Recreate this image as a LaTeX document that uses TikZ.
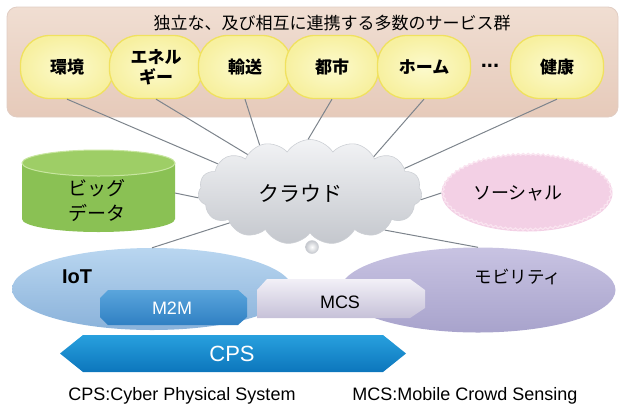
\documentclass[tikz,border=0pt]{standalone}
\usepackage{fontspec}
\setmainfont{Liberation Sans}
\newfontfamily\jp{Noto Sans CJK JP}
\usetikzlibrary{shapes.symbols,shapes.geometric,decorations.pathmorphing}
\definecolor{panelTop}{RGB}{240,222,210}
\definecolor{panelBot}{RGB}{230,202,186}
\definecolor{panelEdge}{RGB}{225,205,195}
\definecolor{bubIn}{RGB}{252,250,205}
\definecolor{bubOut}{RGB}{247,240,160}
\definecolor{bubEdge}{RGB}{240,225,95}
\definecolor{connc}{RGB}{125,132,140}
\definecolor{cloudTop}{RGB}{242,243,245}
\definecolor{cloudBot}{RGB}{196,199,205}
\definecolor{cloudEdge}{RGB}{205,208,213}
\definecolor{greenSide}{RGB}{138,193,84}
\definecolor{greenTop}{RGB}{158,206,102}
\definecolor{greenRim}{RGB}{200,230,160}
\definecolor{pinkFill}{RGB}{243,208,229}
\definecolor{pinkEdge}{RGB}{250,228,240}
\definecolor{iotTop}{RGB}{185,214,240}
\definecolor{iotBot}{RGB}{138,178,218}
\definecolor{mobTop}{RGB}{200,195,226}
\definecolor{mobBot}{RGB}{168,163,204}
\definecolor{m2mTop}{RGB}{90,165,220}
\definecolor{m2mBot}{RGB}{48,128,195}
\definecolor{mcsTop}{RGB}{242,240,247}
\definecolor{mcsBot}{RGB}{198,193,216}
\definecolor{cpsTop}{RGB}{40,160,222}
\definecolor{cpsBot}{RGB}{12,118,188}
\tikzset{
  bubble/.style={rectangle, rounded corners=29pt, minimum width=93pt, minimum height=63pt,
    inner color=bubIn, outer color=bubOut, draw=bubEdge, line width=1.3pt, align=center,
    inner sep=0pt, font=\jp\bfseries\fontsize{17}{20}\selectfont},
  conn/.style={draw=connc, line width=1pt},
  jptext/.style={font=\jp\fontsize{#1}{#1}\selectfont, inner sep=0pt},
  lattext/.style={font=\fontsize{#1}{#1}\selectfont, inner sep=0pt},
}
\begin{document}
\begin{tikzpicture}[x=1pt,y=-1pt]
\useasboundingbox (0,0) rectangle (620,405);
% panel
\node[rectangle, rounded corners=10pt, minimum width=611pt, minimum height=110pt,
  top color=panelTop, bottom color=panelBot, draw=panelEdge, line width=0.8pt] (panel) at (312.5,62) {};
\node[jptext=17] (title) at (332,23) {独立な、及び相互に連携する多数のサービス群};
% service bubbles
\node[bubble] (b1) at (67,67) {環境};
\node[bubble] (b2) at (156,67) {エネル\\ギー};
\node[bubble] (b3) at (245,67) {輸送};
\node[bubble] (b4) at (332,67) {都市};
\node[bubble] (b5) at (424,67) {ホーム};
\node[lattext=22, font=\bfseries\fontsize{22}{22}\selectfont] (dots) at (490,66) {...};
\node[bubble] (b6) at (557,67) {健康};
% cloud
\node[cloud, cloud puffs=15, cloud puff arc=115, aspect=2.2, minimum width=224pt, minimum height=105pt,
  inner sep=0pt, top color=cloudTop, bottom color=cloudBot, draw=cloudEdge, line width=0.6pt] (cloud) at (310,192) {};
\node[jptext=21] (cloudtxt) at (300,193) {クラウド};
\node[circle, minimum size=13pt, inner sep=0pt, inner color=white, outer color=cloudBot, draw=cloudEdge, line width=0.5pt] (drip) at (312,247) {};
% big data cylinder
\fill[greenSide] (22,163) -- (22,219) arc[start angle=180, end angle=360, x radius=76.5pt, y radius=13pt] -- (175,163) -- cycle;
\fill[greenTop, draw=greenRim, line width=1pt] (98.5,163) ellipse [x radius=76.5pt, y radius=13pt];
\node[jptext=19, align=center, font=\jp\fontsize{19}{25}\selectfont] (bigdata) at (97,201) {ビッグ\\データ};
\coordinate (bdr) at (175,193);
% social
\node[ellipse, minimum width=171pt, minimum height=77pt, inner sep=0pt, fill=pinkFill] (social) at (527,193) {};
\draw[pinkEdge, line width=1.2pt, decorate, decoration={snake, segment length=5pt, amplitude=1pt}]
  (527,193) ellipse [x radius=84pt, y radius=37.5pt];
\node[jptext=18] (socialtxt) at (518,193) {ソーシャル};
% IoT and mobility
\node[ellipse, minimum width=280pt, minimum height=82pt, inner sep=0pt, top color=iotTop, bottom color=iotBot] (iot) at (152,289) {};
\node[lattext=20, font=\bfseries\fontsize{20}{20}\selectfont] (iottxt) at (77,277) {IoT};
\node[ellipse, minimum width=275pt, minimum height=85pt, inner sep=0pt, top color=mobTop, bottom color=mobBot] (mob) at (478,290) {};
\node[jptext=17.5] (mobtxt) at (518,277) {モビリティ};
% M2M and MCS
\shade[top color=m2mTop, bottom color=m2mBot] (108,290) -- (238,290) -- (247,298) -- (247,317) -- (238,325) -- (108,325) -- (100,317) -- (100,298) -- cycle;
\node[lattext=18, text=white] (m2mtxt) at (172,308) {M2M};
\shade[top color=mcsTop, bottom color=mcsBot] (267,279) -- (410,279) -- (425,290) -- (425,308) -- (410,318) -- (257,318) -- (257,290) -- cycle;
\node[lattext=18] (mcstxt) at (340,302) {MCS};
% CPS arrow
\shade[top color=cpsTop, bottom color=cpsBot] (60,353.5) -- (83,335) -- (383,335) -- (406,353.5) -- (383,372) -- (83,372) -- cycle;
\node[lattext=22, text=white] (cps) at (232,354) {CPS};
% footer
\node[lattext=18] (fl) at (182,396) {CPS:Cyber Physical System};
\node[lattext=18] (fr) at (465,396) {MCS:Mobile Crowd Sensing};
% connectors
\draw[conn] (b1.south) -- (cloud.163);
\draw[conn] (b2.south) -- (cloud.149);
\draw[conn] (b3.south) -- (cloud.137);
\draw[conn] (b4.south) -- (cloud.92);
\draw[conn] (b5.south) -- (cloud.29);
\draw[conn] (b6.south) -- (cloud.14);
\draw[conn] (bdr) -- (cloud.183);
\draw[conn] (cloud.201) -- (iot.north);
\draw[conn] (cloud.356) -- (social.west);
\draw[conn] (cloud.333) -- (mob.north);
\end{tikzpicture}
\end{document}
